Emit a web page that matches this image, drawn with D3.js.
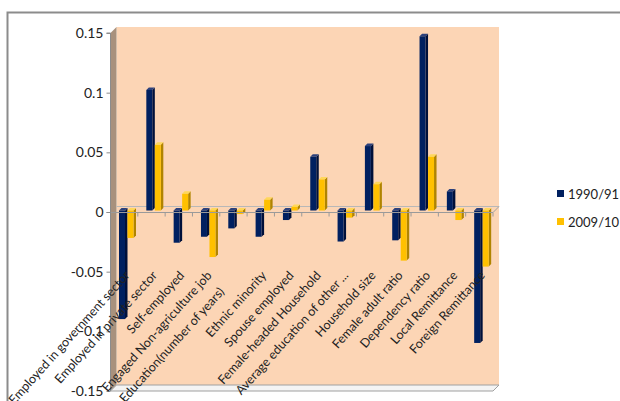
<!DOCTYPE html>
<html>
<head>
<meta charset="utf-8">
<script src="https://cdn.jsdelivr.net/npm/d3@7"></script>
<style>
  html, body { margin: 0; padding: 0; background: #fff; }
  svg { display: block; font-family: Lato, "Open Sans", sans-serif; }
</style>
</head>
<body>
<svg id="chart" width="620" height="401"></svg>
<script>
// Determinants: coefficients for two survey rounds
const categories = [
  "Employed in government sector",
  "Employed in private sector",
  "Self-employed",
  "Engaged Non-agriculture job",
  "Education(number of years)",
  "Ethnic minority",
  "Spouse employed",
  "Female-headed Household",
  "Average education of other ...",
  "Household size",
  "Female adult ratio",
  "Dependency ratio",
  "Local Remittance",
  "Foreign Remittance"
];
const seriesNames = ["1990/91", "2009/10"];
const values1990 = [-0.091, 0.101, -0.027, -0.022, -0.015, -0.022, -0.008, 0.045, -0.026, 0.054, -0.025, 0.146, 0.016, -0.111];
const values2009 = [-0.023, 0.055, 0.014, -0.039, -0.003, 0.009, 0.003, 0.026, -0.006, 0.022, -0.042, 0.045, -0.008, -0.047];
const yTicks = [-0.15, -0.1, -0.05, 0, 0.05, 0.1, 0.15];

const colors = {
  "1990/91": { front: "#002060", side: "#00103a", top: "#2c417c" },
  "2009/10": { front: "#FFC000", side: "#b08400", top: "#ffd75a" }
};

const svg = d3.select("#chart");

// outer chart frame
svg.append("rect")
  .attr("x", 7.5).attr("y", 12.5).attr("width", 640).attr("height", 420)
  .attr("fill", "none").attr("stroke", "#8c8c8c").attr("stroke-width", 2);

const y = d3.scaleLinear().domain([-0.15, 0.15]).range([391, 33]);
const x = d3.scaleBand().domain(categories).range([110.5, 493]);
const xs = d3.scaleBand().domain(seriesNames).range([7, 24]);

const D = 6;          // depth of the plot box
const bd = 2.5;       // depth of each column
const bo = 1.5;       // column inset from the front plane

const plotLeft = x.range()[0], plotRight = x.range()[1];
const plotTop = y(0.15), plotBottom = y(-0.15);

// back wall
svg.append("polygon")
  .attr("points", [[plotLeft + D, plotTop - D], [plotRight + D, plotTop - D], [plotRight + D, plotBottom - D], [plotLeft + D, plotBottom - D]].join(" "))
  .attr("fill", "#FCD5B5");
// side wall
svg.append("polygon")
  .attr("points", [[plotLeft, plotTop], [plotLeft + D, plotTop - D], [plotLeft + D, plotBottom - D], [plotLeft, plotBottom]].join(" "))
  .attr("fill", "#A8917D");
// floor
svg.append("polygon")
  .attr("points", [[plotLeft, plotBottom], [plotLeft + D, plotBottom - D], [plotRight + D, plotBottom - D], [plotRight, plotBottom]].join(" "))
  .attr("fill", "#f4f4f4").attr("stroke", "#a0a0a0").attr("stroke-width", 1);

// zero plane
const y0 = y(0);
svg.append("line")
  .attr("x1", plotLeft + D).attr("x2", plotRight + D).attr("y1", y0 - D + 0.5).attr("y2", y0 - D + 0.5)
  .attr("stroke", "#b8b8b8").attr("stroke-width", 1);
svg.append("line")
  .attr("x1", plotRight).attr("x2", plotRight + D).attr("y1", y0 + 0.5).attr("y2", y0 - D + 0.5)
  .attr("stroke", "#a0a0a0").attr("stroke-width", 1);

// columns
const seriesValues = { "1990/91": values1990, "2009/10": values2009 };
const bars = [];
categories.forEach((c, i) => {
  seriesNames.forEach(s => bars.push({ cat: c, series: s, value: seriesValues[s][i] }));
});

const g = svg.append("g");
bars.forEach(b => {
  const x0 = x(b.cat) + xs(b.series) + bo;
  const w = xs.bandwidth() - bd;
  const yz = y(0) - bo;
  const yv = y(b.value) - bo;
  const yTop = Math.min(yz, yv), yBot = Math.max(yz, yv);
  const col = colors[b.series];
  // side face
  g.append("polygon")
    .attr("points", [[x0 + w, yTop], [x0 + w + bd, yTop - bd], [x0 + w + bd, yBot - bd], [x0 + w, yBot]].join(" "))
    .attr("fill", col.side);
  // top face
  g.append("polygon")
    .attr("points", [[x0, yTop], [x0 + bd, yTop - bd], [x0 + w + bd, yTop - bd], [x0 + w, yTop]].join(" "))
    .attr("fill", col.top);
  // front face
  g.append("rect")
    .attr("x", x0).attr("y", yTop).attr("width", w).attr("height", yBot - yTop)
    .attr("fill", col.front);
});

// front edge of the zero plane with category ticks
svg.append("line")
  .attr("x1", plotLeft - 4).attr("x2", plotRight).attr("y1", y0 + 0.5).attr("y2", y0 + 0.5)
  .attr("stroke", "#9a9a9a").attr("stroke-width", 1.2);
const bounds = categories.map(c => x(c)).concat([plotRight]).slice(1);
svg.append("g").selectAll("line").data(bounds).join("line")
  .attr("x1", d => d).attr("x2", d => d)
  .attr("y1", y0 + 0.5).attr("y2", y0 + 4.5)
  .attr("stroke", "#9a9a9a").attr("stroke-width", 1);

// value axis
const yAxis = d3.axisLeft(y).tickValues(yTicks).tickSize(4).tickPadding(3)
  .tickFormat(d => d === 0 ? "0" : String(+d.toFixed(2)));
const ya = svg.append("g").attr("transform", `translate(${plotLeft},0)`).call(yAxis);
ya.select(".domain").attr("stroke", "#8c8c8c").attr("d", `M-4,${plotTop}H0V${plotBottom}`);
ya.selectAll(".tick line").attr("stroke", "#8c8c8c");
ya.selectAll(".tick text").attr("font-size", 14).attr("fill", "#222")
  .attr("font-family", "Lato, sans-serif");

// category labels, rotated
const labelShift = { "Education(number of years)": 22 };
const ang = 48 * Math.PI / 180;
svg.append("g").selectAll("text").data(categories).join("text")
  .attr("transform", d => {
    const cx = x(d) + x.bandwidth() / 2 + 3;
    const s = labelShift[d] || 0;
    return `translate(${cx - s * Math.cos(ang)},${273 + s * Math.sin(ang)}) rotate(-48)`;
  })
  .attr("text-anchor", "end")
  .attr("dy", "0.35em")
  .attr("font-size", 12.5)
  .attr("fill", "#222")
  .text(d => d);

// legend
const legend = svg.append("g").attr("transform", "translate(557,190)");
seriesNames.forEach((s, i) => {
  const row = legend.append("g").attr("transform", `translate(0,${i * 28})`);
  row.append("rect").attr("width", 7).attr("height", 7).attr("fill", colors[s].front);
  row.append("text").attr("x", 11).attr("y", 4).attr("dy", "0.35em")
    .attr("font-size", 13).attr("fill", "#222").text(s);
});
</script>
</body>
</html>
